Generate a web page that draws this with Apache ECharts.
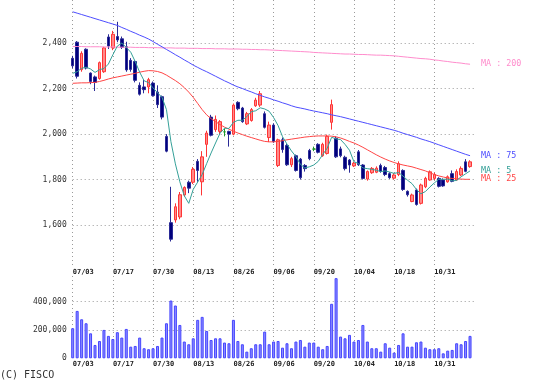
<!DOCTYPE html>
<html><head><meta charset="utf-8">
<script src="https://cdn.jsdelivr.net/npm/echarts@6/dist/echarts.min.js"></script>
<style>html,body{margin:0;padding:0;background:#fff}#c{width:539px;height:389px}</style>
</head><body><div id="c"></div><script>
const dates = ['07/03','07/04','07/05','07/08','07/09','07/10','07/11','07/12','07/16','07/17',
'07/18','07/19','07/22','07/23','07/24','07/25','07/26','07/29','07/30','07/31',
'08/01','08/02','08/05','08/06','08/07','08/08','08/09','08/13','08/14','08/15',
'08/16','08/19','08/20','08/21','08/22','08/23','08/26','08/27','08/28','08/29',
'08/30','09/02','09/03','09/04','09/05','09/06','09/09','09/10','09/11','09/12',
'09/13','09/17','09/18','09/19','09/20','09/24','09/25','09/26','09/27','09/30',
'10/01','10/02','10/03','10/04','10/07','10/08','10/09','10/10','10/11','10/15',
'10/16','10/17','10/18','10/21','10/22','10/23','10/24','10/25','10/28','10/29',
'10/30','10/31','11/01','11/05','11/06','11/07','11/08','11/11','11/12','11/13'];

const opens = [2334,2405,2284,2374,2269,2252,2245,2275,2428,2380,
2430,2420,2385,2325,2320,2215,2208,2208,2225,2185,
2165,1990,1610,1622,1635,1732,1788,1788,1880,1790,
1955,2075,2020,2012,2010,2012,2000,2140,2115,2045,
2060,2125,2128,2090,1985,2040,1862,1975,1950,1865,
1905,1890,1862,1928,1934,1955,1905,1915,2052,1982,
1935,1898,1886,1860,1922,1864,1802,1830,1832,1862,
1853,1826,1806,1822,1840,1748,1703,1754,1695,1768,
1798,1805,1805,1798,1790,1826,1798,1820,1878,1857];

const highs = [2345,2410,2365,2378,2272,2258,2320,2385,2440,2455,
2495,2430,2407,2335,2325,2228,2240,2248,2232,2215,
2170,2000,1768,1695,1745,1770,1795,1855,1890,1925,
2015,2085,2082,2062,2025,2015,2135,2145,2120,2098,
2115,2160,2190,2100,2055,2048,1980,1985,1958,1900,
1910,1895,1868,1935,1945,1960,1962,1998,2152,1990,
1945,1905,1890,1878,1930,1868,1840,1855,1858,1870,
1860,1832,1828,1880,1845,1752,1738,1760,1782,1812,
1840,1830,1810,1805,1818,1840,1845,1858,1890,1885];

const lows = [2290,2245,2275,2285,2220,2190,2240,2270,2375,2370,
2405,2375,2275,2275,2228,2170,2180,2180,2165,2115,
2065,1920,1527,1610,1625,1725,1740,1780,1790,1730,
1900,1990,2010,2000,1990,1945,1995,2105,2050,2040,
2055,2120,2120,2025,1965,1962,1855,1918,1860,1855,
1835,1800,1835,1885,1925,1915,1900,1910,2020,1895,
1898,1840,1830,1855,1860,1800,1795,1825,1828,1830,
1815,1803,1800,1815,1750,1725,1700,1685,1690,1762,
1795,1798,1765,1768,1786,1788,1795,1815,1832,1852];

const closes = [2301,2255,2356,2291,2232,2228,2315,2380,2388,2440,
2415,2382,2283,2285,2237,2176,2196,2240,2170,2130,
2075,1925,1537,1680,1733,1765,1762,1845,1840,1900,
2005,1995,2065,2055,2010,2000,2128,2112,2055,2090,
2108,2150,2178,2030,2040,1967,1975,1932,1865,1892,
1840,1808,1848,1892,1934,1920,1955,1990,2130,1900,
1905,1848,1864,1872,1865,1805,1835,1849,1850,1836,
1822,1808,1820,1870,1756,1733,1732,1690,1776,1805,
1834,1822,1770,1772,1812,1792,1835,1849,1836,1878];

const volumes = [212000,334000,275000,247000,176000,94000,122000,200000,158000,136000,
184000,146000,207000,82000,87000,146000,71000,64000,71000,87000,
146000,247000,407000,372000,235000,118000,99000,141000,271000,292000,
193000,129000,141000,141000,111000,106000,271000,122000,99000,47000,
71000,99000,99000,188000,99000,118000,122000,75000,106000,71000,
118000,129000,82000,111000,111000,82000,64000,87000,384000,565000,
153000,141000,165000,118000,129000,235000,118000,71000,71000,47000,
106000,75000,40000,94000,176000,82000,82000,113000,118000,75000,
64000,64000,71000,35000,54000,59000,106000,99000,122000,158000];

const ma5 = [2268,2275,2290,2295,2287,2272,2284,2289,2309,2350,
2388,2401,2382,2361,2320,2273,2235,2227,2204,2182,
2162,2108,1967,1869,1790,1728,1695,1757,1789,1822,
1870,1917,1961,2004,2026,2025,2052,2061,2061,2077,
2099,2103,2116,2111,2101,2073,2038,1989,1956,1926,
1901,1867,1851,1856,1864,1880,1910,1938,1986,1979,
1976,1955,1929,1878,1871,1851,1848,1845,1841,1835,
1838,1833,1827,1831,1815,1797,1782,1756,1737,1747,
1767,1785,1801,1801,1802,1794,1796,1812,1825,1838];

const ma25 = [2224,2225,2226,2226,2227,2228,2232,2237,2243,2248,
2252,2256,2260,2264,2268,2273,2277,2280,2279,2276,
2270,2260,2248,2236,2222,2205,2185,2162,2135,2108,
2085,2068,2055,2042,2031,2022,2013,2005,1998,1991,
1985,1979,1973,1968,1966,1966,1968,1971,1975,1978,
1981,1984,1987,1989,1991,1992,1992,1992,1991,1988,
1983,1976,1968,1961,1952,1942,1931,1920,1909,1899,
1890,1882,1875,1869,1864,1860,1856,1850,1844,1838,
1830,1822,1816,1811,1807,1805,1803,1802,1801,1801];

const ma75 = [2539,2533,2527,2521,2515,2509,2503,2497,2491,2485,
2479,2470,2462,2453,2445,2436,2428,2419,2408,2396,
2385,2373,2362,2350,2339,2327,2316,2304,2294,2284,
2275,2265,2255,2245,2235,2226,2216,2208,2201,2193,
2186,2178,2171,2164,2158,2151,2145,2138,2132,2125,
2119,2115,2111,2106,2102,2098,2094,2090,2085,2081,
2077,2072,2067,2062,2057,2052,2047,2042,2037,2032,
2027,2022,2017,2011,2004,1998,1992,1986,1979,1973,
1967,1960,1953,1946,1939,1932,1925,1918,1911,1905];

const ma200 = [2386,2386,2386,2385,2385,2385,2385,2384,2384,2384,
2383,2383,2383,2383,2382,2382,2382,2381,2381,2381,
2380,2380,2380,2379,2379,2379,2378,2378,2378,2377,
2377,2377,2376,2376,2376,2375,2375,2375,2374,2374,
2373,2373,2372,2372,2371,2370,2369,2368,2367,2366,
2365,2364,2363,2362,2360,2359,2358,2357,2356,2355,
2354,2353,2353,2352,2351,2351,2350,2349,2348,2348,
2347,2346,2345,2343,2341,2339,2337,2335,2333,2332,
2330,2327,2325,2322,2320,2317,2315,2313,2310,2308];

const priceTicks = [1600, 1800, 2000, 2200, 2400];
const volumeTicks = [0, 200000, 400000];

const cats = dates.concat(['']);
const DOJI = '#1f9a2a';
const candleData = opens.map((o, i) => {
  const v = [o, closes[i], lows[i], highs[i]];
  return o === closes[i] ? { value: v, itemStyle: { color: DOJI, borderColor: DOJI, color0: DOJI, borderColor0: DOJI } } : v;
});

const MONO = 'DejaVu Sans Mono';
const fmt = v => v.toString().replace(/\B(?=(\d{3})+(?!\d))/g, ',');
const gridLine = { color: '#9a9a9a', width: 1, type: [1, 3] };
const L = 72.7, W = 401.8;

function xAxisFor(g, margin) {
  return {
    type: 'category', gridIndex: g, data: cats, boundaryGap: false,
    axisLine: { show: false }, axisTick: { show: false },
    axisLabel: { interval: 8, align: 'left', margin: margin, fontSize: 7, fontWeight: 'bold',
      fontFamily: MONO, color: '#222' },
    splitLine: { show: true, interval: (i) => i % 9 === 0 && i < 90, lineStyle: gridLine }
  };
}

function maLine(name, data, color, label) {
  return {
    name, type: 'line', xAxisIndex: 0, yAxisIndex: 0, data, symbol: 'none',
    lineStyle: { width: 1, color }, itemStyle: { color }, z: 3,
    endLabel: { show: true, formatter: label, color, fontSize: 8.4, fontFamily: MONO, distance: 11 }
  };
}

const chart = echarts.init(document.getElementById('c'), null, { renderer: 'canvas' });
chart.setOption({
  animation: false,
  backgroundColor: '#ffffff',
  grid: [
    { left: L, top: 0, width: W, height: 266 },
    { left: L, top: 276, width: W, height: 82.3 }
  ],
  xAxis: [xAxisFor(0, 3), xAxisFor(1, 2)],
  yAxis: [
    { type: 'value', gridIndex: 0, min: 1419, max: 2591, splitNumber: 6, minInterval: 200, maxInterval: 200,
      axisLine: { show: false }, axisTick: { show: false },
      axisLabel: { showMinLabel: false, showMaxLabel: false, fontSize: 8, fontFamily: MONO, color: '#333', margin: 6,
        formatter: v => priceTicks.includes(v) ? fmt(v) : '' },
      splitLine: { show: true, showMinLine: false, showMaxLine: false, lineStyle: gridLine } },
    { type: 'value', gridIndex: 1, min: 0, max: 580000, splitNumber: 3, minInterval: 200000, maxInterval: 200000,
      axisLine: { show: false }, axisTick: { show: false },
      axisLabel: { showMaxLabel: false, fontSize: 8, fontFamily: MONO, color: '#333', margin: 6,
        formatter: v => volumeTicks.includes(v) ? fmt(v) : '' },
      splitLine: { show: true, showMinLine: false, showMaxLine: false, lineStyle: gridLine } }
  ],
  series: [
    { type: 'candlestick', xAxisIndex: 0, yAxisIndex: 0, data: candleData, barWidth: 3,
      itemStyle: { color: '#ff8a8a', borderColor: '#ff3535', color0: '#00007c', borderColor0: '#2a2a96', borderWidth: 1 } },
    maLine('MA200', ma200, '#ff8ccc', 'MA : 200'),
    maLine('MA75', ma75, '#4d4dff', 'MA : 75'),
    maLine('MA25', ma25, '#ff4545', 'MA : 25'),
    maLine('MA5', ma5, '#35a098', 'MA : 5'),
    { type: 'bar', xAxisIndex: 1, yAxisIndex: 1, data: volumes, barWidth: 3,
      itemStyle: { color: '#8c8cff', borderColor: '#4545ff', borderWidth: 1 } }
  ],
  graphic: [
    { type: 'text', left: 0, top: 370, style: { text: '(C) FISCO', font: '10px "DejaVu Sans Mono"', fill: '#333' } }
  ]
});
</script></body></html>
